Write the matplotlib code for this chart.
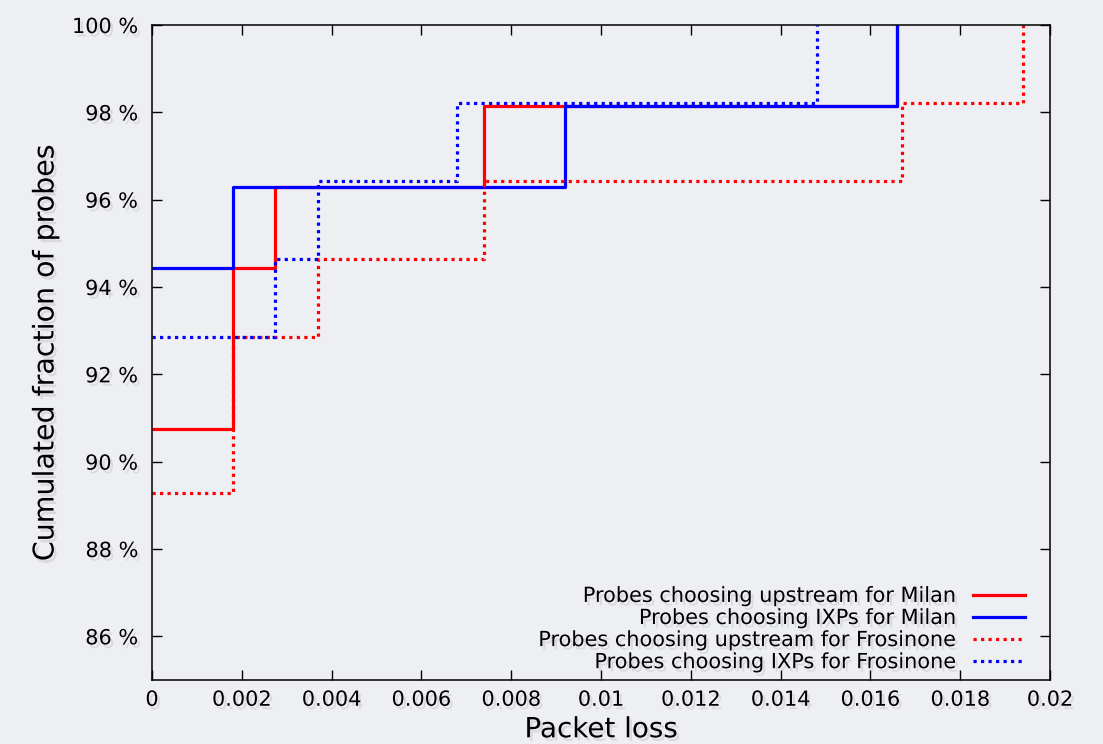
import matplotlib
matplotlib.use("Agg")
import matplotlib.pyplot as plt
import matplotlib.patheffects as pe

# Data (packet loss breakpoints and cumulative fraction in %)
up_milan_x = [0.0, 0.0018, 0.00275, 0.0074, 0.0166]
up_milan_y = [90.74, 94.44, 96.30, 98.15, 100.0]

ixp_milan_x = [0.0, 0.0018, 0.0092, 0.0166]
ixp_milan_y = [94.44, 96.30, 98.15, 100.0]

up_fros_x = [0.0, 0.0018, 0.0037, 0.0074, 0.0167, 0.0194]
up_fros_y = [89.29, 92.86, 94.64, 96.43, 98.21, 100.0]

ixp_fros_x = [0.0, 0.00275, 0.0037, 0.0068, 0.0148]
ixp_fros_y = [92.86, 94.64, 96.43, 98.21, 100.0]

labels = ["Probes choosing upstream for Milan",
          "Probes choosing IXPs for Milan",
          "Probes choosing upstream for Frosinone",
          "Probes choosing IXPs for Frosinone"]

xticks = [0, 0.002, 0.004, 0.006, 0.008, 0.01, 0.012, 0.014, 0.016, 0.018, 0.02]
xticklabels = ["0", "0.002", "0.004", "0.006", "0.008", "0.01", "0.012",
               "0.014", "0.016", "0.018", "0.02"]
yticks = [86, 88, 90, 92, 94, 96, 98, 100]
yticklabels = [f"{v} %" for v in yticks]

plt.rcParams['font.family'] = ['DejaVu Sans']
bg = '#eeeff3'
shadow = [pe.SimplePatchShadow(offset=(2, -2.5), shadow_rgbFace='#808080', alpha=0.18), pe.Normal()]

fig = plt.figure(figsize=(11.03, 7.44), dpi=100, facecolor=bg)
ax = fig.add_axes([0.1378, 0.086, 0.8142, 0.8804])
ax.set_facecolor(bg)

lw = 2.3
dot = (0, (1.0, 1.35))
ax.plot(up_milan_x, up_milan_y, drawstyle='steps-post', color='#ff0000', lw=lw, label=labels[0])
ax.plot(ixp_milan_x, ixp_milan_y, drawstyle='steps-post', color='#0000ff', lw=lw, label=labels[1])
ax.plot(up_fros_x, up_fros_y, drawstyle='steps-post', color='#ff0000', lw=lw, ls=dot, label=labels[2])
ax.plot(ixp_fros_x, ixp_fros_y, drawstyle='steps-post', color='#0000ff', lw=lw, ls=dot, label=labels[3])

ax.set_xlim(0, 0.02)
ax.set_ylim(85, 100)
ax.set_xticks(xticks)
ax.set_xticklabels(xticklabels)
ax.set_yticks(yticks)
ax.set_yticklabels(yticklabels)
ax.tick_params(direction='in', length=7, width=1, top=True, right=True,
               labelsize=15)
ax.tick_params(axis='y', pad=10)
ax.tick_params(axis='x', pad=7)
for sp in ax.spines.values():
    sp.set_linewidth(1.1)

for t in ax.get_xticklabels() + ax.get_yticklabels():
    t.set_path_effects(shadow)

ax.set_xlabel("Packet loss", fontsize=20, labelpad=4, path_effects=shadow)
ax.set_ylabel("Cumulated fraction of probes", fontsize=20.5, labelpad=9, path_effects=shadow)

leg = ax.legend(loc='lower right', bbox_to_anchor=(0.972, 0.012), frameon=False,
                markerfirst=False, fontsize=15,
                handlelength=2.5, handletextpad=0.8, labelspacing=0.1,
                borderaxespad=0.0, borderpad=0.0)
leg._legend_box.align = "right"
for t in leg.get_texts():
    t.set_path_effects(shadow)

fig.savefig("out.png", dpi=100, facecolor=bg)
